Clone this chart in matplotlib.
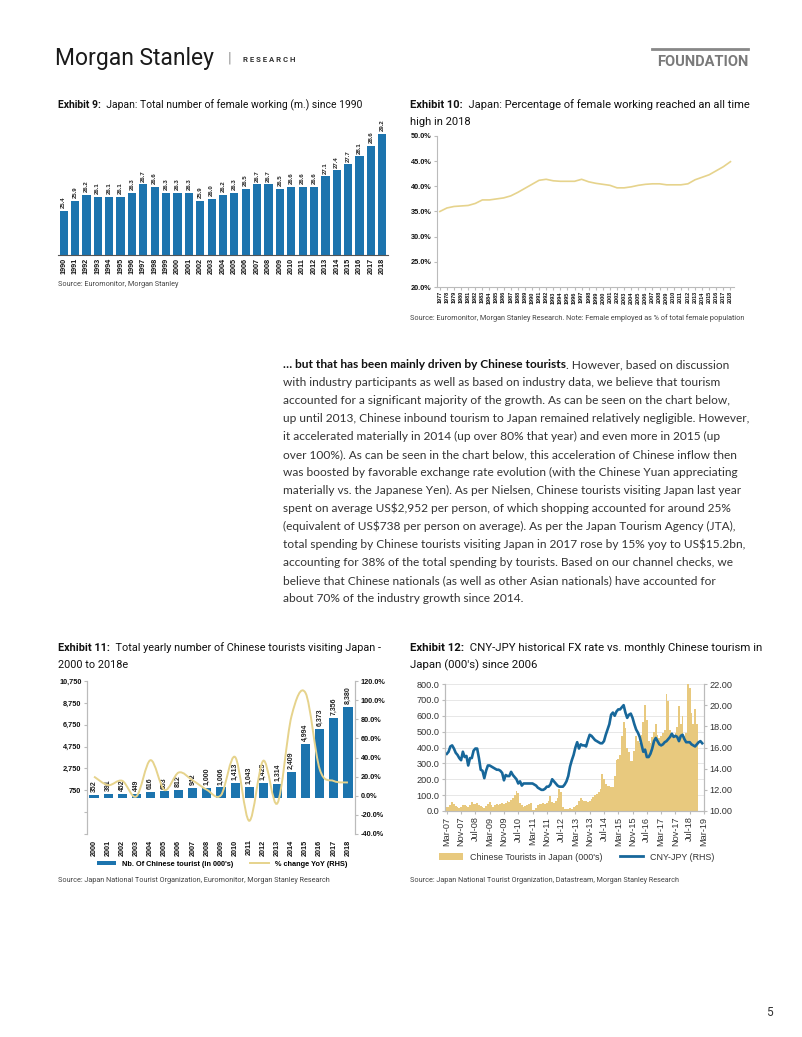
import numpy as np
import matplotlib
matplotlib.use("Agg")
import matplotlib.pyplot as plt
from matplotlib.path import Path
from matplotlib.patches import PathPatch, Patch
from matplotlib.lines import Line2D

# ---------------- data ----------------
ex9_years = [str(y) for y in range(1990, 2019)]
ex9_values = [25.4, 25.9, 26.2, 26.1, 26.1, 26.1, 26.3, 26.7, 26.6, 26.3,
              26.3, 26.3, 25.9, 26.0, 26.2, 26.3, 26.5, 26.7, 26.7, 26.5,
              26.6, 26.6, 26.6, 27.1, 27.4, 27.7, 28.1, 28.6, 29.2]

ex10_years = [str(y) for y in range(1977, 2019)]
ex10_pct = [35.0, 35.7, 36.0, 36.1, 36.2, 36.6, 37.3, 37.3, 37.5, 37.7,
            38.1, 38.8, 39.6, 40.4, 41.2, 41.4, 41.1, 41.0, 41.0, 41.0,
            41.4, 40.9, 40.6, 40.4, 40.2, 39.7, 39.7, 39.9, 40.2, 40.4,
            40.5, 40.5, 40.3, 40.3, 40.3, 40.5, 41.3, 41.8, 42.3, 43.1,
            43.9, 44.9]

ex11_years = [str(y) for y in range(2000, 2019)]
ex11_tourists = [352, 391, 452, 449, 616, 653, 812, 942, 1000, 1006,
                 1413, 1043, 1425, 1314, 2409, 4994, 6373, 7356, 8380]
ex11_yoy = [20.0, 11.1, 15.6, -0.7, 37.2, 6.0, 24.3, 16.0, 6.2, 0.6,
            40.5, -26.2, 36.6, -7.8, 83.3, 107.3, 27.6, 15.4, 13.9]

# monthly, starting Mar-07
ex12_tourists = [
    25, 25, 40, 55, 45, 30, 25, 20, 25, 35,
    40, 30, 25, 40, 55, 45, 45, 50, 35, 30,
    25, 20, 30, 45, 55, 35, 25, 35, 45, 40,
    45, 50, 45, 50, 60, 55, 70, 85, 100, 125,
    115, 50, 35, 25, 30, 40, 45, 50, 5, 5,
    20, 40, 45, 45, 50, 45, 50, 60, 95, 55,
    50, 60, 80, 140, 120, 25, 15, 10, 12, 20,
    15, 25, 32, 40, 60, 85, 70, 64, 60, 55,
    65, 75, 90, 100, 110, 120, 140, 235, 200, 170,
    160, 155, 150, 150, 220, 320, 330, 350, 470, 560,
    520, 400, 370, 315, 315, 380, 470, 440, 430, 480,
    560, 670, 575, 440, 430, 465, 500, 550, 480, 460,
    470, 490, 510, 735, 690, 510, 470, 480, 490, 530,
    660, 550, 600, 470, 490, 800, 775, 615, 545, 640,
    545]
ex12_fx = [
    15.4, 15.6, 16.1, 16.2, 15.9, 15.5, 15.3, 15.0, 14.8, 15.6,
    15.1, 15.2, 14.3, 15.0, 15.0, 15.7, 15.9, 15.9, 15.0, 13.9,
    13.8, 13.1, 13.8, 14.3, 14.3, 14.2, 14.1, 14.0, 13.9, 13.9,
    13.8, 13.6, 12.9, 13.4, 13.3, 13.3, 13.7, 13.4, 13.2, 13.0,
    12.6, 12.8, 12.4, 12.6, 12.6, 12.6, 12.6, 12.6, 12.6, 12.5,
    12.4, 12.2, 12.1, 12.0, 12.0, 12.1, 12.3, 12.3, 12.5, 13.0,
    12.8, 12.6, 12.4, 12.3, 12.3, 12.3, 12.5, 12.8, 13.3, 14.2,
    14.8, 15.3, 16.0, 16.5, 15.9, 16.3, 16.2, 16.2, 16.1, 16.7,
    17.2, 17.1, 16.9, 16.7, 16.6, 16.5, 16.4, 16.4, 16.6, 17.2,
    17.7, 18.2, 19.1, 19.3, 19.0, 19.4, 19.6, 19.6, 19.8, 20.0,
    19.3, 18.8, 19.1, 19.2, 18.8, 18.2, 17.7, 17.4, 17.0, 16.3,
    15.6, 15.8, 15.1, 15.1, 15.4, 15.9, 16.6, 16.9, 16.6, 16.3,
    16.2, 16.3, 16.5, 16.6, 16.8, 17.0, 17.3, 17.0, 17.1, 17.0,
    16.6, 17.1, 17.2, 16.8, 16.5, 16.5, 16.5, 16.3, 16.2, 16.1,
    16.3, 16.5, 16.6, 16.4]
ex12_ticklabels = ["Mar-07", "Nov-07", "Jul-08", "Mar-09", "Nov-09", "Jul-10",
                   "Mar-11", "Nov-11", "Jul-12", "Mar-13", "Nov-13", "Jul-14",
                   "Mar-15", "Nov-15", "Jul-16", "Mar-17", "Nov-17", "Jul-18",
                   "Mar-19"]

body_lines = [
    "with industry participants as well as based on industry data, we believe that tourism",
    "accounted for a significant majority of the growth. As can be seen on the chart below,",
    "up until 2013, Chinese inbound tourism to Japan remained relatively negligible. However,",
    "it accelerated materially in 2014 (up over 80% that year) and even more in 2015 (up",
    "over 100%). As can be seen in the chart below, this acceleration of Chinese inflow then",
    "was boosted by favorable exchange rate evolution (with the Chinese Yuan appreciating",
    "materially vs. the Japanese Yen). As per Nielsen, Chinese tourists visiting Japan last year",
    r"spent on average US\$2,952 per person, of which shopping accounted for around 25%",
    r"(equivalent of US\$738 per person on average). As per the Japan Tourism Agency (JTA),",
    r"total spending by Chinese tourists visiting Japan in 2017 rose by 15% yoy to US\$15.2bn,",
    "accounting for 38% of the total spending by tourists. Based on our channel checks, we",
    "believe that Chinese nationals (as well as other Asian nationals) have accounted for",
    "about 70% of the industry growth since 2014.",
]

BLUE = "#1C74AE"
GOLD_LINE = "#E6D38C"
GOLD_BAR = "#E8C97E"
FX_BLUE = "#17679A"
AXIS_GRAY = "#BBBBBB"
CHART_FONT = "Liberation Sans"
TITLE_FONT = "Roboto"

W, H = 802, 1037
fig = plt.figure(figsize=(W / 100, H / 100), dpi=100)
renderer = fig.canvas.get_renderer()


def add_ax(l, t, r, b):
    return fig.add_axes([l / W, 1 - b / H, (r - l) / W, (b - t) / H])


def ftext(x, y, s, **kw):
    kw.setdefault("va", "center")
    return fig.text(x / W, 1 - y / H, s, **kw)


def two_part(x, y, first, rest, size, first_kw, rest_kw, gap=0):
    t = ftext(x, y, first, fontsize=size, **first_kw)
    x1 = t.get_window_extent(renderer=renderer).x1
    ftext(x1 + gap, y, rest, fontsize=size, **rest_kw)


def exhibit_title(x, y, num, text, second=None, size=8.0):
    two_part(x, y, f"Exhibit {num}:", "  " + text, size,
             dict(weight="bold", family=TITLE_FONT, color="#111111"),
             dict(family=TITLE_FONT, color="#111111"))
    if second:
        ftext(x, y + 17, second, fontsize=size, family=TITLE_FONT, color="#111111")


def source(x, y, s):
    ftext(x, y, s, fontsize=5.2, family=TITLE_FONT, color="#444444")


def smooth_path(xs, ys):
    verts = [(xs[0], ys[0])]
    codes = [Path.MOVETO]
    n = len(xs)
    for i in range(n - 1):
        p0 = (xs[max(i - 1, 0)], ys[max(i - 1, 0)])
        p1 = (xs[i], ys[i])
        p2 = (xs[i + 1], ys[i + 1])
        p3 = (xs[min(i + 2, n - 1)], ys[min(i + 2, n - 1)])
        c1 = (p1[0] + (p2[0] - p0[0]) / 6, p1[1] + (p2[1] - p0[1]) / 6)
        c2 = (p2[0] - (p3[0] - p1[0]) / 6, p2[1] - (p3[1] - p1[1]) / 6)
        verts += [c1, c2, p2]
        codes += [Path.CURVE4] * 3
    return Path(verts, codes)


# ---------------- header ----------------
ftext(55, 59, "Morgan Stanley", fontsize=16.5, family=TITLE_FONT, color="#1a1a1a")
ftext(228, 59, "|", fontsize=11, family=TITLE_FONT, color="#999999")
ftext(243, 59, "R E S E A R C H", fontsize=5.6, family=TITLE_FONT, weight="bold",
      color="#333333")
fig.add_artist(Line2D([652 / W, 748 / W], [1 - 49 / H, 1 - 49 / H],
                      color="#888888", lw=2))
ftext(748, 62, "FOUNDATION", fontsize=10.5, family=TITLE_FONT, weight="bold",
      color="#7a7a7a", ha="right")

# ---------------- Exhibit 9 ----------------
exhibit_title(58, 105, 9, "Japan: Total number of female working (m.) since 1990",
              size=7.5)
ax9 = add_ax(58, 118, 388, 255)
x9 = np.arange(len(ex9_years))
ax9.bar(x9, ex9_values, width=0.72, color=BLUE)
ax9.set_ylim(23.2, 30.0)
ax9.set_xlim(-0.5, len(x9) - 0.5)
for xi, v in zip(x9, ex9_values):
    ax9.annotate(f"{v:.1f}", (xi, v), xytext=(0, 2), textcoords="offset points",
                 rotation=90, ha="center", va="bottom", fontsize=4.3,
                 weight="bold", family=CHART_FONT, color="#222222")
ax9.set_yticks([])
ax9.set_xticks(x9)
ax9.set_xticklabels(ex9_years, rotation=90, fontsize=5.2, weight="bold",
                    family=CHART_FONT, color="#111111")
ax9.tick_params(axis="x", length=0, pad=2)
for s in ["top", "left", "right"]:
    ax9.spines[s].set_visible(False)
ax9.spines["bottom"].set_color("#555555")
ax9.spines["bottom"].set_linewidth(0.8)
source(58, 285, "Source: Euromonitor, Morgan Stanley")

# ---------------- Exhibit 10 ----------------
exhibit_title(410, 105, 10, "Japan: Percentage of female working reached an all time",
              "high in 2018", size=8.0)
ax10 = add_ax(437, 136, 734, 287)
x10 = np.arange(len(ex10_years))
ax10.plot(x10, ex10_pct, color=GOLD_LINE, lw=1.2)
ax10.set_ylim(20, 50)
ax10.set_xlim(-0.4, len(x10) - 0.5)
ax10.set_yticks(np.arange(20, 51, 5))
ax10.set_yticklabels([f"{v:.1f}%" for v in np.arange(20, 51, 5)], fontsize=5.3,
                     weight="bold", family=CHART_FONT, color="#111111")
ax10.set_xticks(x10)
ax10.set_xticklabels(ex10_years, rotation=90, fontsize=4.0, weight="bold",
                     family=CHART_FONT, color="#111111")
ax10.tick_params(axis="x", length=2, pad=1, color=AXIS_GRAY)
ax10.tick_params(axis="y", length=2, pad=2, color=AXIS_GRAY)
for s in ["top", "right"]:
    ax10.spines[s].set_visible(False)
for s in ["left", "bottom"]:
    ax10.spines[s].set_color(AXIS_GRAY)
    ax10.spines[s].set_linewidth(0.8)
source(410, 318, "Source: Euromonitor, Morgan Stanley Research. Note: Female employed "
       "as % of total female population")

# ---------------- body text ----------------
BODY_FONT = "Lato"
BODY_SIZE = 8.6
BODY_COLOR = "#333333"
two_part(283, 365, "\u2026 but that has been mainly driven by Chinese tourists",
         ". However, based on discussion", BODY_SIZE,
         dict(weight="bold", family=BODY_FONT, color="#111111"),
         dict(family=BODY_FONT, color=BODY_COLOR))
for i, line in enumerate(body_lines):
    ftext(283, 365 + 17.95 * (i + 1), line, fontsize=BODY_SIZE, family=BODY_FONT,
          color=BODY_COLOR)

# ---------------- Exhibit 11 ----------------
exhibit_title(58, 648, 11, "Total yearly number of Chinese tourists visiting Japan -",
              "2000 to 2018e", size=7.8)
ax11 = add_ax(87, 681, 355, 834)
x11 = np.arange(len(ex11_years))
ax11.bar(x11, ex11_tourists, width=0.65, color=BLUE, zorder=2)
ax11.set_ylim(-3250, 10750)
ax11.set_xlim(-0.5, len(x11) - 0.5)
lticks = np.arange(-3250, 10751, 2000)
ax11.set_yticks(lticks)
ax11.set_yticklabels([f"{v:,}" if v > 0 else "" for v in lticks], fontsize=5.3,
                     weight="bold", family=CHART_FONT, color="#111111")
ax11.set_xticks(x11)
ax11.set_xticklabels(ex11_years, rotation=90, fontsize=5.2, weight="bold",
                     family=CHART_FONT, color="#111111")
ax11.tick_params(axis="x", length=0, pad=4)
ax11.tick_params(axis="y", length=2, pad=2, color=AXIS_GRAY)
for xi, v in zip(x11, ex11_tourists):
    ax11.annotate(f"{v:,}", (xi, v), xytext=(0, 2), textcoords="offset points",
                  rotation=90, ha="center", va="bottom", fontsize=5.0,
                  weight="bold", family=CHART_FONT, color="#222222", zorder=5)
ax11b = ax11.twinx()
ax11b.add_patch(PathPatch(smooth_path(x11, ex11_yoy), fill=False,
                          edgecolor=GOLD_LINE, lw=1.4, zorder=3))
ax11b.set_ylim(-40, 120)
rticks = np.arange(-40, 121, 20)
ax11b.set_yticks(rticks)
ax11b.set_yticklabels([f"{v:.1f}%" for v in rticks], fontsize=5.3, weight="bold",
                      family=CHART_FONT, color="#111111")
ax11b.tick_params(axis="y", length=2, pad=2, color=AXIS_GRAY)
for a in (ax11, ax11b):
    for s in ["top", "bottom"]:
        a.spines[s].set_visible(False)
    for s in ["left", "right"]:
        a.spines[s].set_color(AXIS_GRAY)
        a.spines[s].set_linewidth(0.8)
fig.legend([Patch(facecolor=BLUE), Line2D([], [], color=GOLD_LINE, lw=1.4)],
           ["Nb. Of Chinese tourist (in 000's)", "% change YoY (RHS)"],
           loc="center", bbox_to_anchor=(222 / W, 1 - 864 / H), ncol=2,
           frameon=False, handlelength=2.6, handleheight=0.5, columnspacing=2.2,
           prop=dict(size=5.3, weight="bold", family=CHART_FONT))
source(58, 881, "Source: Japan National Tourist Organization, Euromonitor, "
       "Morgan Stanley Research")

# ---------------- Exhibit 12 ----------------
exhibit_title(410, 648, 12, "CNY-JPY historical FX rate vs. monthly Chinese tourism in",
              "Japan (000's) since 2006", size=8.2)
ax12 = add_ax(445, 684, 704, 811)
m_bar = np.arange(len(ex12_tourists))
m_fx = np.arange(len(ex12_fx))
ax12.bar(m_bar, ex12_tourists, width=1.0, color=GOLD_BAR, linewidth=0, zorder=2)
ax12.set_ylim(0, 800)
ax12.set_xlim(-1, 144)
ax12.set_yticks(np.arange(0, 801, 100))
ax12.set_yticklabels([f"{v:.1f}" for v in np.arange(0, 801, 100)], fontsize=6.6,
                     family=CHART_FONT, color="#333333")
ax12.grid(axis="y", color="#E3E3E3", lw=0.6, zorder=0)
ax12.set_axisbelow(True)
ax12.set_xticks(np.arange(0, 145, 8))
ax12.set_xticklabels(ex12_ticklabels, rotation=90, fontsize=6.6,
                     family=CHART_FONT, color="#333333")
ax12.tick_params(axis="both", length=2, pad=2, color=AXIS_GRAY)
ax12b = ax12.twinx()
ax12b.plot(m_fx, ex12_fx, color=FX_BLUE, lw=1.9, solid_joinstyle="round")
ax12b.set_ylim(10, 22)
ax12b.set_yticks(np.arange(10, 23, 2))
ax12b.set_yticklabels([f"{v:.2f}" for v in np.arange(10, 23, 2)], fontsize=6.6,
                      family=CHART_FONT, color="#333333")
ax12b.tick_params(axis="y", length=2, pad=2, color=AXIS_GRAY)
for a in (ax12, ax12b):
    a.spines["top"].set_visible(False)
    for s in ["left", "right", "bottom"]:
        a.spines[s].set_color(AXIS_GRAY)
        a.spines[s].set_linewidth(0.8)
fig.legend([Patch(facecolor=GOLD_BAR), Line2D([], [], color=FX_BLUE, lw=2)],
           ["Chinese Tourists in Japan (000's)", "CNY-JPY (RHS)"],
           loc="center", bbox_to_anchor=(577 / W, 1 - 857 / H), ncol=2,
           frameon=False, handlelength=2.6, handleheight=0.8, columnspacing=2.0,
           prop=dict(size=6.4, family=CHART_FONT))
for t in fig.legends[-1].get_texts():
    t.set_color("#333333")
source(410, 880, "Source: Japan National Tourist Organization, Datastream, "
       "Morgan Stanley Research")

ftext(773, 1012, "5", fontsize=8.5, family=TITLE_FONT, color="#333333", ha="right")

fig.savefig("out.png", dpi=100)
